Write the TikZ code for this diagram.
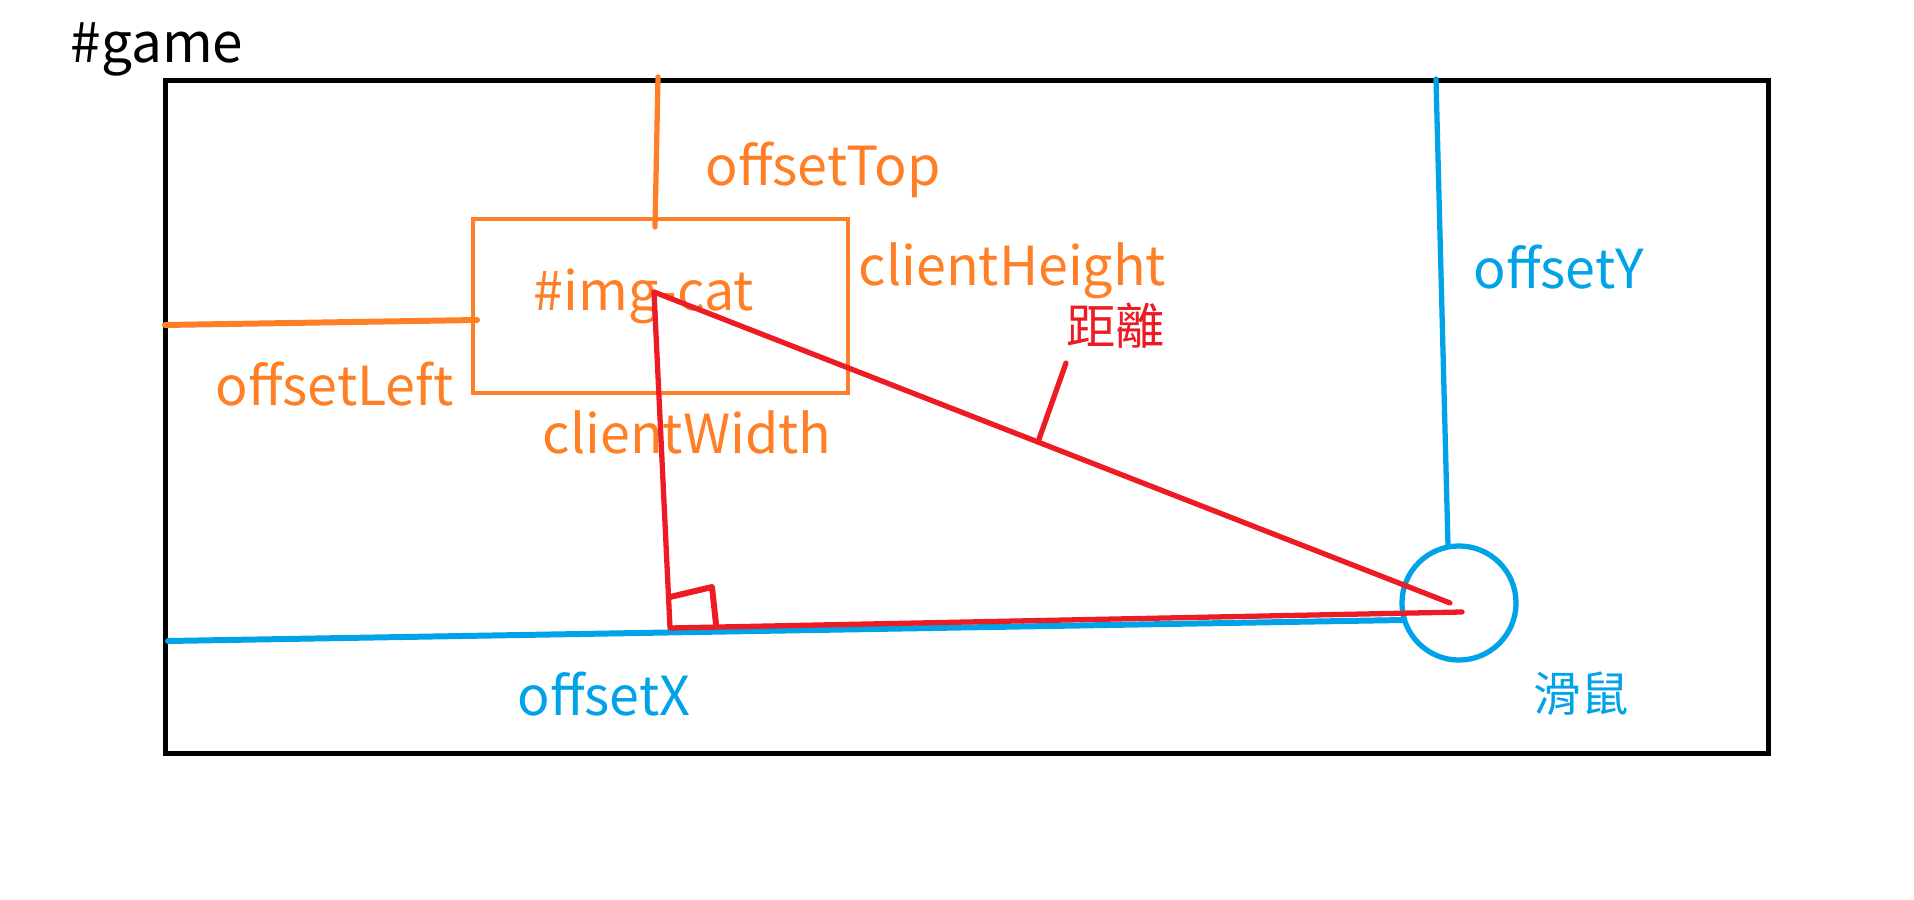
\documentclass[tikz,border=0pt]{standalone}
\usepackage{fontspec}
\setmainfont{Noto Sans CJK TC}
\definecolor{paintorange}{RGB}{255,127,39}
\definecolor{paintred}{RGB}{237,28,36}
\definecolor{paintblue}{RGB}{0,162,232}
\tikzset{
  pen/.style={line width=1.5pt, line cap=round, line join=round},
  txt/.style={anchor=base west, inner sep=0pt, font=\fontsize{15.3}{18}\selectfont},
  cjk/.style={anchor=base west, inner sep=0pt, font=\fontsize{13.5}{16}\selectfont},
}
\begin{document}
\begin{tikzpicture}[x=0.01cm, y=-0.01cm]
\useasboundingbox (0,0) rectangle (1914,900);

% #game frame
\node[draw, line width=1.4pt, minimum width=16.02cm, minimum height=6.73cm,
  inner sep=0pt, anchor=north west] (game) at (163,78) {};
\node[txt, font=\fontsize{15.6}{18}\selectfont] (gamelbl) at (70,63) {\#game};

% #img-cat box
\node[draw=paintorange, line width=1.2pt, minimum width=3.75cm, minimum height=1.74cm,
  inner sep=0pt, anchor=north west] (cat) at (471,217) {};
\node[txt, text=paintorange] (catlbl) at (533,310) {\#img-cat};

% offsetTop / offsetLeft
\coordinate (topstart) at (658,77);
\coordinate (topend) at (655,227);
\coordinate (leftstart) at (165,325);
\coordinate (leftend) at (477,320);
\draw[pen, paintorange] (topstart) -- (topend);
\draw[pen, paintorange, line width=1.7pt] (leftstart) -- (leftend);
\node[txt, text=paintorange] (toplbl) at (705,185) {offsetTop};
\node[txt, text=paintorange] (leftlbl) at (215,405) {offsetLeft};
\node[txt, text=paintorange] (heightlbl) at (858,285) {clientHeight};
\node[txt, text=paintorange] (widthlbl) at (542,453) {clientWidth};

% mouse
\node[draw=paintblue, circle, line width=1.5pt, minimum size=1.14cm, inner sep=0pt]
  (mouse) at (1459,603) {};
\node[cjk, text=paintblue] (mouselbl) at (1533,711) {滑鼠};

% offsetX / offsetY
\coordinate (xstart) at (168,641);
\coordinate (xend) at (1403,620);
\coordinate (ystart) at (1436,79);
\coordinate (yend) at (1448,546);
\draw[pen, paintblue, line width=1.7pt] (xstart) -- (xend);
\draw[pen, paintblue] (ystart) -- (yend);
\node[txt, text=paintblue] (ylbl) at (1473,288) {offsetY};
\node[txt, text=paintblue] (xlbl) at (517,715) {offsetX};

% distance triangle
\coordinate (catpt) at (654,292);
\coordinate (corner) at (670,628);
\coordinate (mousept) at (1462,612);
\coordinate (hypend) at (1450,603);
\draw[pen, paintred] (catpt) -- (corner) -- (mousept);
\draw[pen, paintred] (catpt) -- (hypend);
% right angle mark
\coordinate (rA) at (670,597);
\coordinate (rB) at (712,587);
\coordinate (rC) at (716,624);
\draw[pen, paintred, line width=1.7pt] (rA) -- (rB) -- (rC);
% pointer to label
\coordinate (tickA) at (1066,363);
\coordinate (tickB) at (1038,442);
\draw[pen, paintred] (tickA) -- (tickB);
\node[cjk, text=paintred, font=\fontsize{14}{17}\selectfont] (distlbl) at (1066,344) {距離};

\end{tikzpicture}
\end{document}
